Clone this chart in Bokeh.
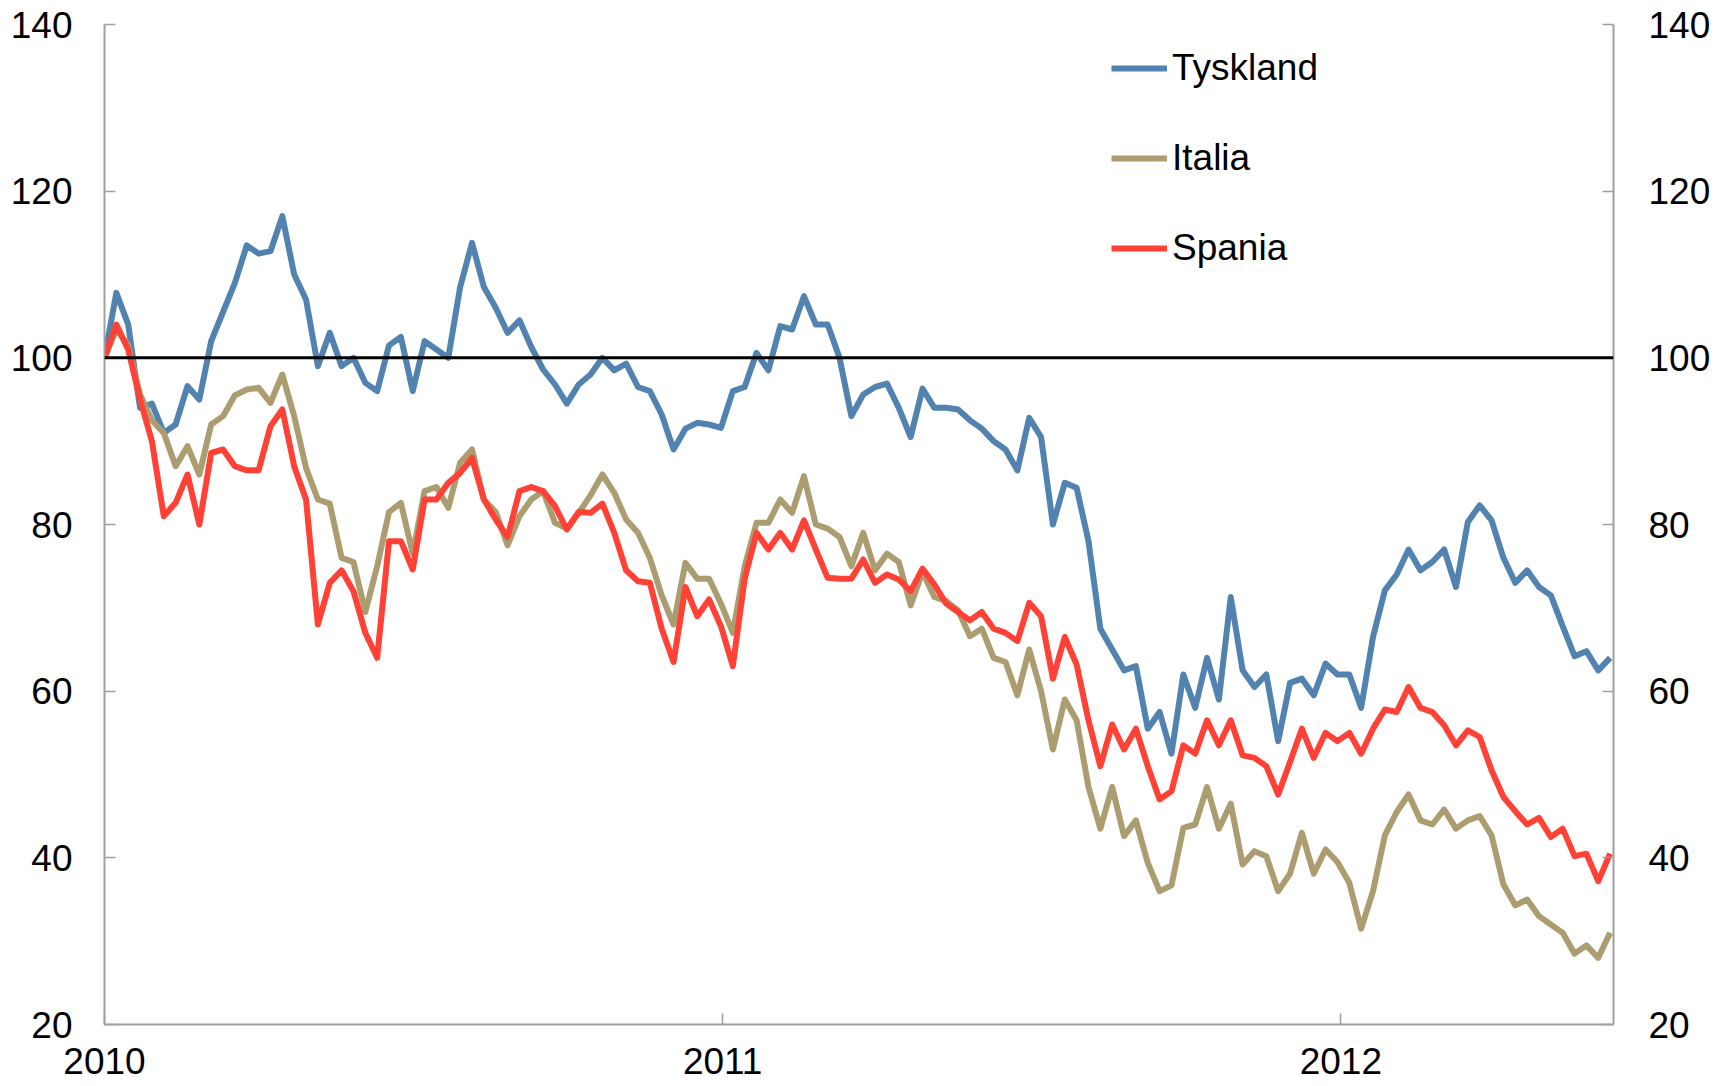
import datetime as dt
from bokeh.plotting import figure
from bokeh.models import (LinearAxis, FixedTicker, DatetimeTickFormatter, Span,
                          Legend, LegendItem, Range1d, ColumnDataSource)
from bokeh.embed import file_html
from bokeh.resources import INLINE

# Weekly index values (2010-01-01 = 100)
tyskland = [100, 107.8, 104, 94, 94.5, 91, 92, 96.6, 95, 102, 105.5, 109, 113.5, 112.5, 112.8, 117,
            110, 107, 99, 103, 99, 100, 97, 96, 101.5, 102.5, 96, 102, 101, 100, 108.5, 113.8,
            108.5, 106, 103, 104.5, 101.3, 98.6, 96.8, 94.5, 96.8, 98, 100, 98.5, 99.3, 96.5, 96, 93.2,
            89, 91.5, 92.2, 92, 91.6, 96, 96.5, 100.6, 98.5, 103.8, 103.4, 107.4, 104, 104, 100, 93,
            95.6, 96.5, 96.9, 94, 90.5, 96.3, 94, 94, 93.8, 92.5, 91.5, 90, 89, 86.5, 92.8, 90.5,
            80, 85, 84.4, 78, 67.5, 65, 62.5, 63, 55.5, 57.5, 52.5, 62, 58, 64, 59, 71.3,
            62.5, 60.5, 62, 54, 61, 61.5, 59.5, 63.3, 62, 62, 58, 66.5, 72.1, 74, 77, 74.5,
            75.5, 77, 72.5, 80.3, 82.3, 80.5, 76, 73, 74.5, 72.5, 71.5, 67.8, 64.2, 64.8, 62.5, 64]
italia = [100, 103.4, 101.5, 95.6, 92.5, 91, 87, 89.4, 86, 92, 93, 95.5, 96.2, 96.4, 94.6, 98,
          93, 86.8, 83, 82.5, 76, 75.5, 69.5, 75, 81.5, 82.6, 76.5, 84, 84.5, 82, 87.4, 89,
          83, 81.5, 77.5, 81, 83, 84, 80.2, 79.5, 81.4, 83.5, 86, 83.8, 80.6, 79, 76, 71.5,
          68, 75.4, 73.5, 73.5, 70.5, 67, 75, 80.2, 80.2, 83, 81.4, 85.8, 80, 79.5, 78.5, 75,
          79, 74.5, 76.5, 75.5, 70.3, 74.3, 71.3, 70.8, 69.7, 66.6, 67.5, 64, 63.5, 59.5, 65, 60,
          53, 59, 56.5, 48.5, 43.5, 48.5, 42.6, 44.5, 39.4, 36, 36.7, 43.6, 44, 48.5, 43.5, 46.5,
          39.2, 40.8, 40.2, 36, 38.1, 43, 38.1, 41, 39.5, 37, 31.5, 36, 42.7, 45.5, 47.6, 44.5,
          44, 45.8, 43.5, 44.5, 45, 42.7, 36.8, 34.3, 35, 33, 32, 31, 28.5, 29.5, 28, 31]
spania = [100, 104, 101, 95, 90, 81, 82.6, 86, 80, 88.6, 89, 87, 86.5, 86.5, 91.8, 93.8,
          87, 83, 68, 73, 74.5, 72, 67, 64, 78, 78, 74.6, 83, 83, 85, 86.2, 88,
          83, 80.6, 78.5, 84, 84.5, 84, 82.2, 79.4, 81.5, 81.4, 82.5, 79, 74.5, 73.2, 73, 67.5,
          63.5, 72.5, 69, 71, 67.8, 63, 73.5, 79, 77, 79, 77, 80.5, 77, 73.6, 73.5, 73.5,
          75.8, 73, 74, 73.4, 72, 74.7, 72.8, 70.5, 69.5, 68.5, 69.5, 67.5, 67, 66, 70.6, 69,
          61.5, 66.5, 63.2, 56.5, 51, 56, 53, 55.5, 51, 47, 48, 53.5, 52.5, 56.5, 53.5, 56.5,
          52.3, 52, 51, 47.6, 51.5, 55.5, 52, 55, 54, 55, 52.5, 55.5, 57.8, 57.5, 60.5, 58,
          57.5, 55.9, 53.5, 55.3, 54.5, 50.5, 47.3, 45.6, 44, 44.8, 42.5, 43.5, 40.2, 40.5, 37.2, 40.5]

series_names = ["Tyskland", "Italia", "Spania"]
series_colors = ["#5282B0", "#AC9D70", "#FF4136"]
year_ticks = [dt.datetime(2010, 1, 1), dt.datetime(2011, 1, 1), dt.datetime(2012, 1, 1)]
y_ticks = [20, 40, 60, 80, 100, 120, 140]

start = dt.datetime(2010, 1, 1)
dates = [start + dt.timedelta(days=7 * i) for i in range(len(tyskland))]

FONT = "Liberation Sans"
FSIZE = "37px"
AXIS_COLOR = "#A0A0A0"

p = figure(width=1727, height=1086, x_axis_type="datetime",
           x_range=Range1d(dt.datetime(2010, 1, 1), dt.datetime(2012, 6, 10)),
           y_range=Range1d(20, 140),
           output_backend="svg", toolbar_location=None,
           min_border_left=104, min_border_right=114, min_border_top=24, min_border_bottom=62)
p.outline_line_color = None
p.xgrid.visible = False
p.ygrid.visible = False
p.background_fill_color = "white"
p.border_fill_color = "white"

def style_axis(ax):
    ax.axis_line_color = AXIS_COLOR
    ax.axis_line_width = 2
    ax.major_tick_line_color = AXIS_COLOR
    ax.major_tick_line_width = 1.5
    ax.major_tick_in = 11
    ax.major_tick_out = 0
    ax.minor_tick_line_color = None
    ax.major_label_text_font = FONT
    ax.major_label_text_font_size = FSIZE
    ax.major_label_text_color = "black"

# x axis
xax = p.xaxis[0]
xax.ticker = FixedTicker(ticks=[d.timestamp() * 1000 for d in year_ticks])
xax.formatter = DatetimeTickFormatter(years="%Y", months="%Y", days="%Y", hours="%Y",
                                      minutes="%Y", seconds="%Y", milliseconds="%Y")
style_axis(xax)
xax.major_label_standoff = 23

# left y axis
yax = p.yaxis[0]
yax.ticker = FixedTicker(ticks=y_ticks)
style_axis(yax)
yax.major_label_standoff = 32

# right y axis
rax = LinearAxis(ticker=FixedTicker(ticks=y_ticks))
style_axis(rax)
rax.major_label_standoff = 35
p.add_layout(rax, "right")

# lines
renderers = []
for name, vals, col in zip(series_names, [tyskland, italia, spania], series_colors):
    src = ColumnDataSource(dict(x=dates, y=vals))
    r = p.line("x", "y", source=src, line_color=col, line_width=6, line_join="round")
    renderers.append((name, r))

p.add_layout(Span(location=100, dimension="width", line_color="black", line_width=3))

legend = Legend(items=[LegendItem(label=n, renderers=[r]) for n, r in renderers],
                location=(1007, 755), glyph_width=56, glyph_height=40, label_height=40,
                label_standoff=5, spacing=48, padding=0, margin=0,
                border_line_color=None, background_fill_alpha=0,
                label_text_font=FONT, label_text_font_size=FSIZE, label_text_color="black")
p.add_layout(legend)

open("out.html", "w").write(file_html(p, INLINE))
